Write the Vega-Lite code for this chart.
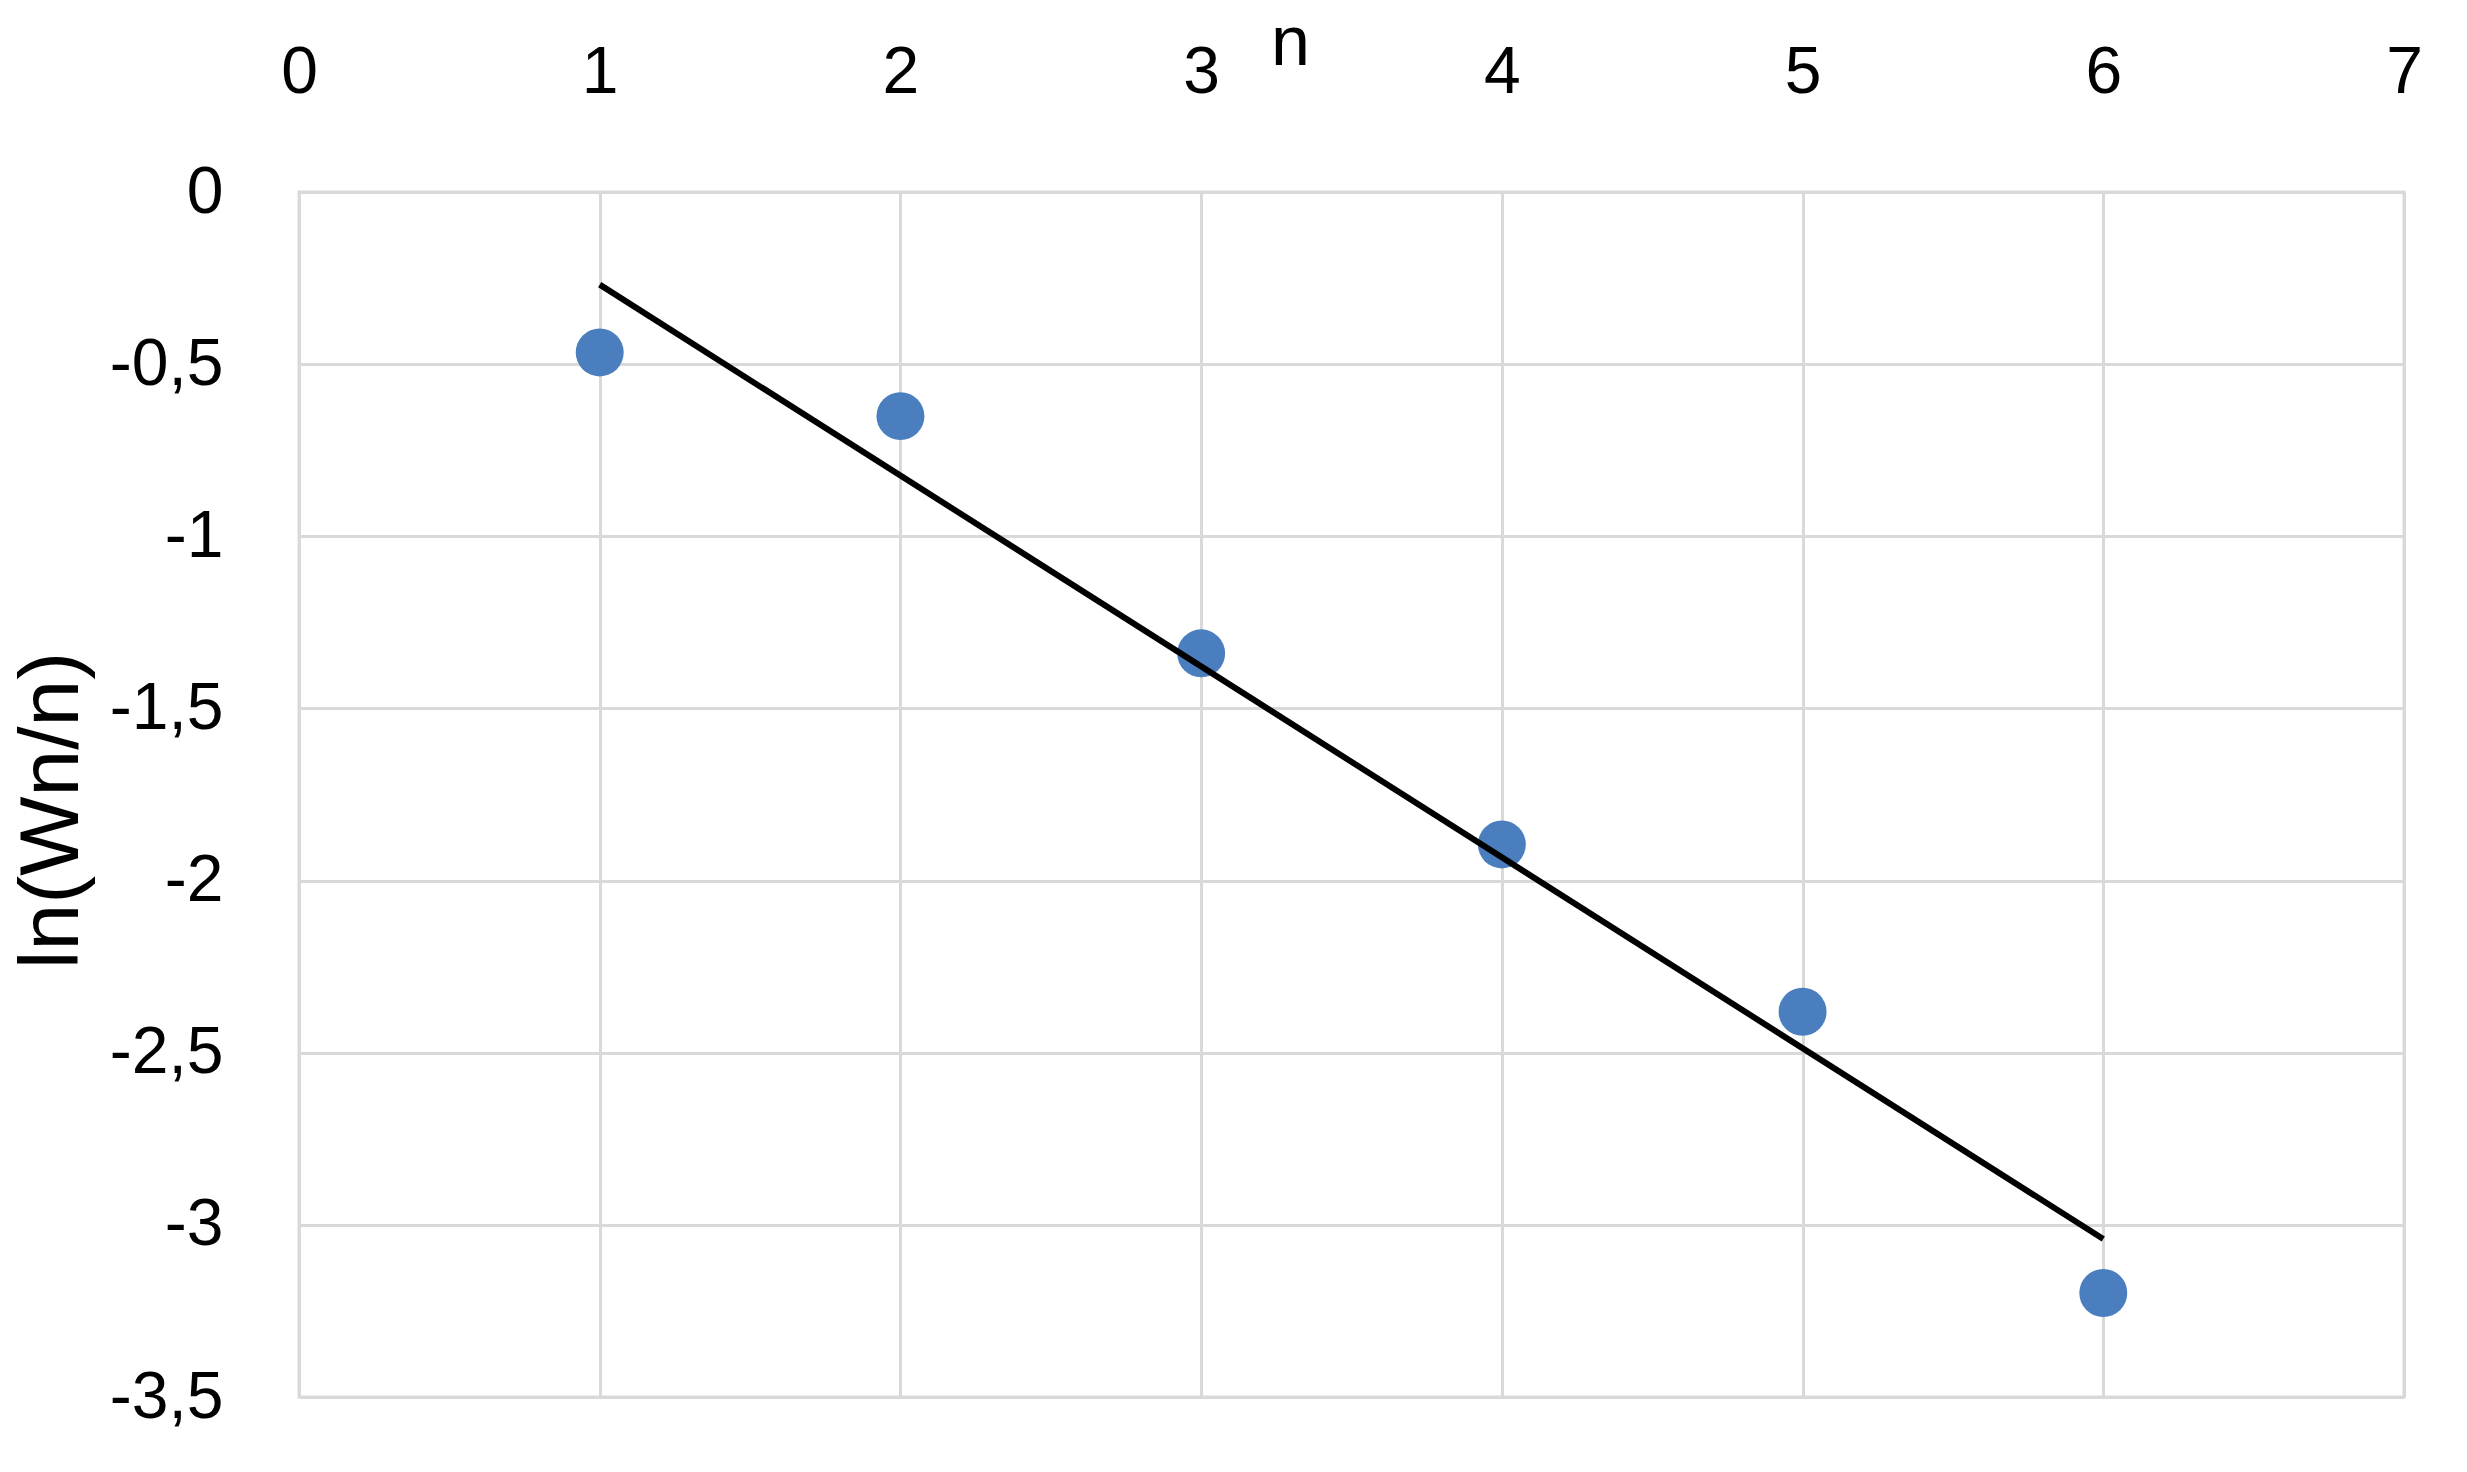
{
  "$schema": "https://vega.github.io/schema/vega-lite/v6.json",
  "autosize": "none",
  "width": 2105,
  "height": 1205,
  "padding": {"left": 299, "top": 192, "right": 63, "bottom": 75},
  "background": "white",
  "config": {
    "view": {"stroke": "#d9d9d9", "strokeWidth": 3},
    "font": "Liberation Sans"
  },
  "data": {
    "values": [
      {"n": 1, "lnWn": -0.466},
      {"n": 2, "lnWn": -0.651},
      {"n": 3, "lnWn": -1.340},
      {"n": 4, "lnWn": -1.895},
      {"n": 5, "lnWn": -2.381},
      {"n": 6, "lnWn": -3.198}
    ]
  },
  "encoding": {
    "x": {
      "field": "n",
      "type": "quantitative",
      "scale": {"domain": [0, 7], "nice": false, "zero": false},
      "axis": {
        "orient": "top",
        "title": "n",
        "values": [0, 1, 2, 3, 4, 5, 6, 7],
        "domain": false,
        "ticks": false,
        "tickSize": 0,
        "grid": true,
        "gridColor": "#d9d9d9",
        "gridWidth": 3,
        "labelFont": "Liberation Sans",
        "labelFontSize": 66,
        "labelColor": "#000000",
        "labelBaseline": "alphabetic",
        "labelPadding": 100,
        "labelFlush": false,
        "labelOverlap": false,
        "titleFont": "Liberation Sans",
        "titleFontSize": 70,
        "titleFontWeight": "normal",
        "titleColor": "#000000",
        "titleX": 991,
        "titleY": -128,
        "titleBaseline": "alphabetic",
        "titleAlign": "center"
      }
    },
    "y": {
      "field": "lnWn",
      "type": "quantitative",
      "scale": {"domain": [-3.5, 0], "nice": false, "zero": false},
      "axis": {
        "title": "ln(Wn/n)",
        "values": [0, -0.5, -1, -1.5, -2, -2.5, -3, -3.5],
        "labelExpr": "replace(toString(datum.value), '.', ',')",
        "domain": false,
        "ticks": false,
        "tickSize": 0,
        "grid": true,
        "gridColor": "#d9d9d9",
        "gridWidth": 3,
        "labelFont": "Liberation Sans",
        "labelFontSize": 66,
        "labelColor": "#000000",
        "labelPadding": 76,
        "labelFlush": false,
        "labelOverlap": false,
        "titleFont": "Liberation Sans",
        "titleFontSize": 84,
        "titleFontWeight": "normal",
        "titleColor": "#000000",
        "titleAngle": -90,
        "titleX": -247,
        "titleY": 618,
        "titleBaseline": "middle",
        "titleAlign": "center"
      }
    }
  },
  "layer": [
    {
      "mark": {"type": "point", "shape": "circle", "filled": true, "size": 2300, "color": "#4a7ebf", "opacity": 1}
    },
    {
      "transform": [{"regression": "lnWn", "on": "n"}],
      "mark": {"type": "line", "color": "#000000", "strokeWidth": 6}
    }
  ]
}
